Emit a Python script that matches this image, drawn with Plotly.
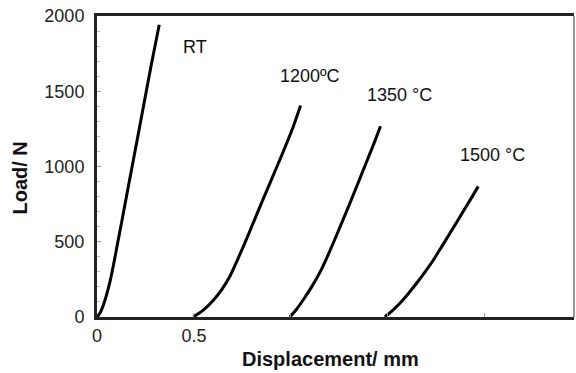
import plotly.graph_objects as go

# Data
rt_x = [0.0, 0.015, 0.033, 0.050, 0.067, 0.085, 0.101, 0.127, 0.153, 0.179, 0.205, 0.239, 0.282, 0.321]
rt_y = [0, 25, 80, 150, 235, 345, 455, 630, 808, 985, 1162, 1395, 1690, 1942]

t1200_x = [0.496, 0.545, 0.599, 0.645, 0.686, 0.720, 0.754, 0.797, 0.840, 0.892, 0.943, 0.980, 1.012, 1.050]
t1200_y = [0, 42, 110, 185, 272, 367, 466, 598, 732, 890, 1045, 1160, 1264, 1405]

t1350_x = [0.995, 1.028, 1.063, 1.107, 1.149, 1.184, 1.218, 1.261, 1.304, 1.347, 1.390, 1.428, 1.462]
t1350_y = [0, 50, 113, 200, 295, 390, 490, 622, 755, 892, 1030, 1152, 1268]

t1500_x = [1.485, 1.522, 1.562, 1.605, 1.648, 1.691, 1.734, 1.777, 1.820, 1.862, 1.904, 1.935, 1.966]
t1500_y = [0, 40, 91, 155, 224, 298, 377, 466, 556, 645, 734, 800, 868]

series_names = ["RT", "1200ºC", "1350 °C", "1500 °C"]
label_pos_x = [0.505, 1.098, 1.562, 2.041]
label_pos_y = [1794, 1600, 1475, 1076]

x_tick_vals = [0, 0.5, 1.0, 1.5, 2.0]
x_tick_text = ["0", "0.5", "", "", ""]
y_tick_vals = [0, 500, 1000, 1500, 2000]

fig = go.Figure()
for xs, ys, name in [(rt_x, rt_y, series_names[0]), (t1200_x, t1200_y, series_names[1]),
                     (t1350_x, t1350_y, series_names[2]), (t1500_x, t1500_y, series_names[3])]:
    fig.add_trace(go.Scatter(x=xs, y=ys, mode="lines", name=name,
                             line=dict(color="black", width=3, shape="spline", smoothing=0.6),
                             showlegend=False))

for name, lx, ly in zip(series_names, label_pos_x, label_pos_y):
    fig.add_annotation(x=lx, y=ly, text=name, showarrow=False,
                       font=dict(family="Liberation Sans, Arial", size=18, color="#111"))

fig.add_annotation(xref="paper", yref="paper", x=0.49, y=0, yshift=-42, text="<b>Displacement/ mm</b>",
                   showarrow=False, font=dict(family="Liberation Sans, Arial", size=20, color="#111"),
                   yanchor="middle")
fig.add_annotation(xref="paper", yref="paper", x=0, xshift=-77, y=0.46, text="<b>Load/ N</b>",
                   textangle=-90, showarrow=False,
                   font=dict(family="Liberation Sans, Arial", size=20, color="#111"),
                   xanchor="center")

# thin right border
fig.add_shape(type="line", xref="paper", yref="paper", x0=1, x1=1, y0=0, y1=1,
              line=dict(color="#777", width=1.5))

fig.update_xaxes(range=[0, 2.46], tickvals=x_tick_vals, ticktext=x_tick_text,
                 ticks="inside", ticklen=4, tickcolor="#999", tickwidth=1,
                 showgrid=False, zeroline=False,
                 showline=True, linecolor="#222", linewidth=3, mirror=True,
                 tickfont=dict(family="Liberation Sans, Arial", size=18, color="#222"))
fig.update_yaxes(range=[0, 2000], tickvals=y_tick_vals,
                 ticks="inside", ticklen=4, tickcolor="#999", tickwidth=1,
                 minor=dict(dtick=100, ticks="inside", ticklen=3, tickcolor="#bbb"),
                 showgrid=False, zeroline=False,
                 showline=True, linecolor="#222", linewidth=3, mirror=False,
                 ticklabelstandoff=6,
                 tickfont=dict(family="Liberation Sans, Arial", size=18, color="#222"))

fig.update_layout(width=576, height=373,
                  margin=dict(l=97, r=2, t=16, b=56, autoexpand=False),
                  plot_bgcolor="white", paper_bgcolor="white")

fig.write_html("out.html", config={"displayModeBar": False},
               post_script="document.body.style.margin='0';document.body.style.overflow='hidden';")
